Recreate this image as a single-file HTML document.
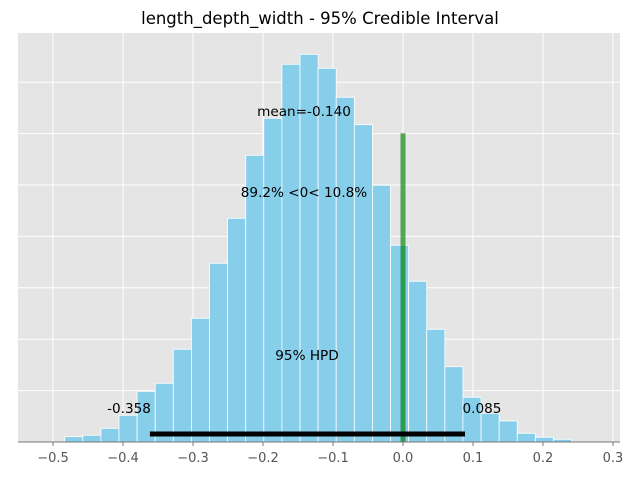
<!DOCTYPE html>
<html><head><meta charset="utf-8"><style>
body{margin:0;background:#fff;}
svg{display:block;font-family:"DejaVu Sans","Liberation Sans",sans-serif;}
</style></head><body>
<svg id="chart" width="640" height="480"></svg>
<script>
const binStart = -0.4833;
const binWidth = 0.02586;
const counts = [5.3,6.7,13.7,26.7,50.7,58.7,92.7,123.7,178.7,223.7,286.7,323.7,377.7,387.7,373.7,344.7,317.3,256.7,196.7,160.7,112.7,75.3,44.7,28.7,21,8.7,4.7,2.7];
const xTicks = [-0.5,-0.4,-0.3,-0.2,-0.1,0.0,0.1,0.2,0.3];
const xTickLabels = ["\u22120.5","\u22120.4","\u22120.3","\u22120.2","\u22120.1","0.0","0.1","0.2","0.3"];
const hpd = [-0.358, 0.085];
const meanVal = -0.140;
const refVal = 0.0;
const refTop = 308.7;

const NS="http://www.w3.org/2000/svg";
const svg=document.getElementById('chart');
const L=18,R=620,T=33,B=442;
const x=v=>403+v*700;
const y=h=>B-h;
function mk(tag,attrs,parent){const e=document.createElementNS(NS,tag);for(const k in attrs)e.setAttribute(k,attrs[k]);(parent||svg).appendChild(e);return e;}

const bg=mk('rect',{x:L,y:T,width:R-L,height:B-T,fill:'#e5e5e5'});


for(let k=1;k<8;k++){const g=mk('line',{x1:L,x2:R,y1:B-51.4*k,y2:B-51.4*k,stroke:'#fff','stroke-width':1});

}
xTicks.forEach(t=>{const g=mk('line',{x1:x(t),x2:x(t),y1:T,y2:B,stroke:'#fff','stroke-width':1});

});

counts.forEach((c,i)=>{const x0=x(binStart+i*binWidth);const r=mk('rect',{x:x0,y:y(c),width:binWidth*700,height:c,fill:'#87ceeb',stroke:'#fff','stroke-width':0.8});

});

const ref=mk('rect',{x:x(refVal)-2.5,y:y(refTop),width:5,height:refTop,fill:'green','fill-opacity':0.65});



const hl=mk('line',{x1:x(hpd[0]),x2:x(hpd[1]),y1:434,y2:434,stroke:'#000','stroke-width':5,'stroke-linecap':'square'});



const ax=mk('line',{x1:L,x2:R,y1:B,y2:B,stroke:'#777','stroke-width':1});


xTicks.forEach((t,i)=>{const tk=mk('line',{x1:x(t),x2:x(t),y1:B,y2:B+4,stroke:'#777'});


const tl=mk('text',{x:x(t),y:462,'text-anchor':'middle','font-size':13,fill:'#555'});tl.textContent=xTickLabels[i];

});

function txt(s,xx,yy,name,size,anchor){const e=mk('text',{x:xx,y:yy,'text-anchor':anchor||'middle','font-size':size||13.6,fill:'#000'});e.textContent=s;

return e;}
txt('length_depth_width - 95% Credible Interval',320,24,'chart-title',16.5);
txt('mean='+meanVal.toFixed(3),304,116,'mean-label');
txt('89.2% <0< 10.8%',304,197,'ref-percent-label');
txt('95% HPD',307,360,'hpd-label');
txt(hpd[0].toFixed(3),129,413,'hpd-lower-label');
txt(hpd[1].toFixed(3),482,413,'hpd-upper-label');
</script>
</body></html>
